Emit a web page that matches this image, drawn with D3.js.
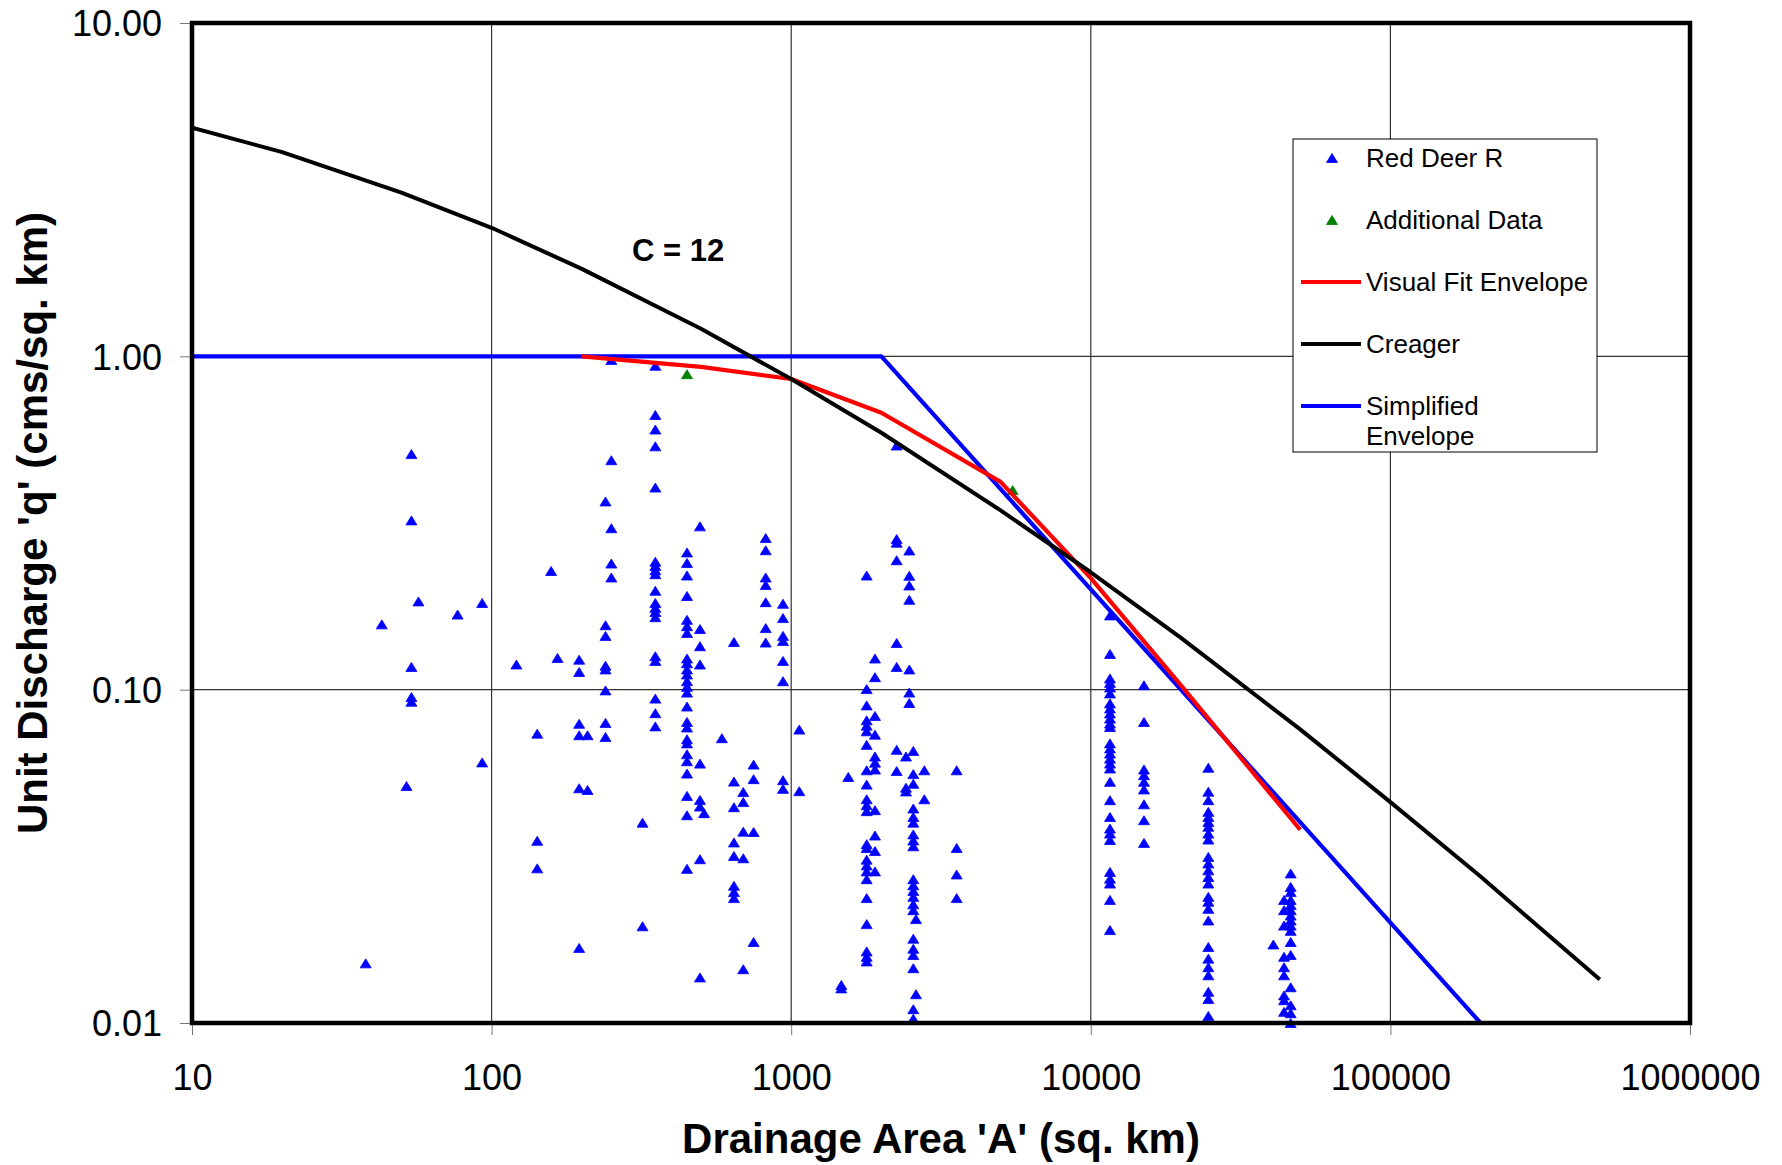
<!DOCTYPE html>
<html>
<head>
<meta charset="utf-8">
<script src="https://cdn.jsdelivr.net/npm/d3@7"></script>
<style>
  body { margin: 0; background: #fff; }
  svg { display: block; font-family: "Liberation Sans", Arial, sans-serif; }
</style>
</head>
<body>
<div id="chart"></div>
<script>
// Red Deer R: drainage area of each station (sq. km) and the unit discharges read at it
const stationAreas = [38, 43, 52, 54, 57, 77, 93, 121, 142, 158, 166, 196, 209, 240, 251, 319, 352, 449,
  496, 512, 587, 644, 692, 749, 822, 939, 1064, 1470, 1551, 1786, 1904, 2249, 2416, 2479, 2556, 2609,
  2782, 3567, 11590, 15050, 24680, 40680, 44160, 46470];
const stationQ = [
  [0.0151],
  [0.157],
  [0.0514],
  [0.509, 0.322, 0.117, 0.095, 0.092],
  [0.184],
  [0.168],
  [0.182, 0.0605],
  [0.119],
  [0.0738, 0.0352, 0.0291],
  [0.227],
  [0.1245],
  [0.123, 0.113, 0.079, 0.073, 0.0506, 0.0168],
  [0.073, 0.050],
  [0.367, 0.156, 0.145, 0.118, 0.115, 0.0995, 0.0795, 0.0721],
  [0.975, 0.488, 0.305, 0.239, 0.217],
  [0.0399, 0.0195],
  [0.937, 0.667, 0.603, 0.537, 0.404, 0.242, 0.235, 0.228, 0.222, 0.198, 0.182, 0.176, 0.171, 0.165, 0.126, 0.122, 0.094, 0.085, 0.0776],
  [0.258, 0.240, 0.220, 0.191, 0.162, 0.155, 0.148, 0.124, 0.120, 0.115, 0.111, 0.106, 0.102, 0.098, 0.089, 0.080, 0.077, 0.071, 0.069, 0.064, 0.061, 0.056, 0.048, 0.042, 0.029],
  [0.309, 0.152, 0.135, 0.119, 0.060, 0.0467, 0.0446, 0.031, 0.0137],
  [0.0426],
  [0.0715],
  [0.139, 0.053, 0.0444, 0.0348, 0.0317, 0.0258, 0.0247, 0.0237],
  [0.0493, 0.046, 0.0375, 0.0312, 0.0145],
  [0.0596, 0.0539, 0.0374, 0.0175],
  [0.285, 0.262, 0.217, 0.206, 0.183, 0.153, 0.1385],
  [0.181, 0.164, 0.145, 0.140, 0.122, 0.106, 0.0535, 0.0504],
  [0.0759, 0.0496],
  [0.0130, 0.0127],
  [0.0547],
  [0.220, 0.1004, 0.0897, 0.0809, 0.078, 0.075, 0.0683, 0.0573, 0.0519, 0.0469, 0.045, 0.0432, 0.0344, 0.0335, 0.0309, 0.0297, 0.0285, 0.027, 0.0237, 0.0198, 0.0164, 0.0158, 0.0153],
  [0.124, 0.109, 0.0834, 0.0733, 0.063, 0.0604, 0.0576, 0.0435, 0.0365, 0.0328, 0.0285],
  [0.540, 0.283, 0.276, 0.2445, 0.138, 0.117, 0.066, 0.057],
  [0.063, 0.0508, 0.0495],
  [0.2615, 0.2196, 0.2054, 0.186, 0.115, 0.098, 0.0912],
  [0.0655, 0.0558, 0.0522, 0.044, 0.0415, 0.0399, 0.0368, 0.0353, 0.0339, 0.027, 0.0259, 0.0249, 0.0239, 0.0227, 0.0218, 0.0179, 0.0167, 0.016, 0.0146, 0.011, 0.0103],
  [0.0205, 0.0122],
  [0.0573, 0.0469],
  [0.0573, 0.0335, 0.0279, 0.0237],
  [0.167, 0.128, 0.108, 0.1048, 0.1015, 0.0974, 0.0909, 0.0878, 0.0848, 0.0819, 0.0791, 0.0773, 0.069, 0.0666, 0.0643, 0.0621, 0.060, 0.058, 0.0529, 0.0466, 0.0415, 0.0383, 0.037, 0.0354, 0.0284, 0.0271, 0.0262, 0.0234, 0.019],
  [0.1031, 0.080, 0.0576, 0.0554, 0.0529, 0.0502, 0.0453, 0.0406, 0.0347],
  [0.0583, 0.0494, 0.0466, 0.043, 0.0415, 0.0401, 0.0388, 0.037, 0.0355, 0.0315, 0.0301, 0.0287, 0.0274, 0.0262, 0.0239, 0.0231, 0.022, 0.0203, 0.0169, 0.0156, 0.0147, 0.0139, 0.0124, 0.0118, 0.0105],
  [0.0172],
  [0.0234, 0.0218, 0.0196, 0.0158, 0.0147, 0.0139, 0.0121, 0.0117, 0.0108],
  [0.0281, 0.0256, 0.0247, 0.0234, 0.0226, 0.0218, 0.021, 0.0203, 0.0196, 0.0189, 0.0175, 0.016, 0.0128, 0.0113, 0.0107, 0.0100]
];

// Additional Data
const extraAreas = [449, 5485];
const extraQ = [0.884, 0.397];

// Visual Fit Envelope
const fitAreas = [200, 500, 1000, 2000, 5000, 10000, 20000, 50000];
const fitQ = [1.0, 0.93, 0.855, 0.677, 0.42, 0.216, 0.103, 0.038];

// Creager, C = 12
const creagerAreas = [10, 20, 50, 100, 200, 500, 1000, 2000, 5000, 10000, 20000, 50000, 100000, 200000, 500000];
const creagerQ = [4.85, 4.1, 3.1, 2.43, 1.83, 1.21, 0.855, 0.59, 0.345, 0.225, 0.143, 0.076, 0.046, 0.0275, 0.0135];

// Simplified Envelope
const simpleAreas = [10, 2000, 200000];
const simpleQ = [1, 1, 0.01];

const xTicks = [10, 100, 1000, 10000, 100000, 1000000];
const yTicks = [0.01, 0.1, 1, 10];

// Set up dimensions
const margin = { top: 23, right: 92, bottom: 142, left: 192 };
const width = 1782 - margin.left - margin.right;
const height = 1165 - margin.top - margin.bottom;

const svgRoot = d3.select("#chart")
  .append("svg")
  .attr("width", 1782)
  .attr("height", 1165);

const svg = svgRoot.append("g")
  .attr("transform", `translate(${margin.left},${margin.top})`);

// Scales (log on both axes)
const x = d3.scaleLog().domain([10, 1000000]).range([0, width]);
const y = d3.scaleLog().domain([0.01, 10]).range([height, 0]);

svg.append("clipPath")
  .attr("id", "plot-clip")
  .append("rect")
  .attr("width", width)
  .attr("height", height);

// Gridlines
svg.append("g")
  .selectAll("line")
  .data(xTicks.slice(1, -1))
  .enter().append("line")
  .attr("x1", d => x(d)).attr("x2", d => x(d))
  .attr("y1", 0).attr("y2", height)
  .attr("stroke", "#333")
  .attr("stroke-width", 1.2);

svg.append("g")
  .selectAll("line")
  .data(yTicks.slice(1, -1))
  .enter().append("line")
  .attr("y1", d => y(d)).attr("y2", d => y(d))
  .attr("x1", 0).attr("x2", width)
  .attr("stroke", "#333")
  .attr("stroke-width", 1.2);

// Axes
const xAxis = svg.append("g")
  .attr("transform", `translate(0,${height})`)
  .call(d3.axisBottom(x).tickValues(xTicks).tickFormat(d3.format("d")).tickSize(12));
xAxis.select(".domain").remove();
xAxis.selectAll("line").attr("stroke", "#777");
xAxis.selectAll("text")
  .attr("y", 41)
  .style("font-size", "36px")
  .style("fill", "#000");

const yAxis = svg.append("g")
  .call(d3.axisLeft(y).tickValues(yTicks).tickFormat(d3.format(".2f")).tickSize(12).tickPadding(18));
yAxis.select(".domain").remove();
yAxis.selectAll("line").attr("stroke", "#777");
yAxis.selectAll("text")
  .attr("dy", "0.36em")
  .style("font-size", "36px")
  .style("fill", "#000");

// Red Deer R points
const points = [];
stationAreas.forEach((a, i) => {
  stationQ[i].forEach(q => points.push({ a: a, q: q }));
});
const extraPoints = extraAreas.map((a, i) => ({ a: a, q: extraQ[i] }));

const tri = "M0,-4.5L5.5,4.5L-5.5,4.5Z";

svg.append("g")
  .selectAll("path")
  .data(points)
  .enter().append("path")
  .attr("d", tri)
  .attr("transform", d => `translate(${x(d.a)},${y(d.q)})`)
  .style("fill", "#0000ff")
  .style("stroke", "#0000ff")
  .style("stroke-width", 0.8);

svg.append("g")
  .selectAll("path")
  .data(extraPoints)
  .enter().append("path")
  .attr("d", tri)
  .attr("transform", d => `translate(${x(d.a)},${y(d.q)})`)
  .style("fill", "#008000")
  .style("stroke", "#008000")
  .style("stroke-width", 0.8);

// Lines
const line = d3.line()
  .x(d => x(d[0]))
  .y(d => y(d[1]));

function drawLine(areas, qs, colour, w) {
  svg.append("path")
    .datum(areas.map((a, i) => [a, qs[i]]))
    .attr("clip-path", "url(#plot-clip)")
    .attr("d", line)
    .attr("fill", "none")
    .attr("stroke", colour)
    .attr("stroke-width", w)
    .attr("stroke-linejoin", "round");
}

drawLine(simpleAreas, simpleQ, "#0000ff", 4.2);
drawLine(fitAreas, fitQ, "#ff0000", 4.2);
drawLine(creagerAreas, creagerQ, "#000000", 4);

// Plot border
svg.append("rect")
  .attr("width", width)
  .attr("height", height)
  .attr("fill", "none")
  .attr("stroke", "#000")
  .attr("stroke-width", 4.5);

// Curve label
svgRoot.append("text")
  .attr("x", 632)
  .attr("y", 261)
  .style("font-size", "31px")
  .style("font-weight", "bold")
  .text("C = 12");

// Axis titles
svgRoot.append("text")
  .attr("x", margin.left + width / 2)
  .attr("y", 1153)
  .attr("text-anchor", "middle")
  .style("font-size", "42px")
  .style("font-weight", "bold")
  .text("Drainage Area 'A' (sq. km)");

svgRoot.append("text")
  .attr("transform", `translate(47,${margin.top + height / 2}) rotate(-90)`)
  .attr("text-anchor", "middle")
  .style("font-size", "42px")
  .style("font-weight", "bold")
  .text("Unit Discharge 'q' (cms/sq. km)");

// Legend
const legend = svgRoot.append("g").attr("transform", "translate(1293,139)");
legend.append("rect")
  .attr("width", 304)
  .attr("height", 313)
  .attr("fill", "#fff")
  .attr("stroke", "#000")
  .attr("stroke-width", 1);

const legendItems = [
  { label: ["Red Deer R"], type: "marker", colour: "#0000ff" },
  { label: ["Additional Data"], type: "marker", colour: "#008000" },
  { label: ["Visual Fit Envelope"], type: "line", colour: "#ff0000" },
  { label: ["Creager"], type: "line", colour: "#000000" },
  { label: ["Simplified", "Envelope"], type: "line", colour: "#0000ff" }
];

legendItems.forEach((item, i) => {
  const cy = 19 + i * 62;
  if (item.type === "marker") {
    legend.append("path")
      .attr("d", tri)
      .attr("transform", `translate(39,${cy})`)
      .style("fill", item.colour)
      .style("stroke", item.colour)
      .style("stroke-width", 0.8);
  } else {
    legend.append("line")
      .attr("x1", 8).attr("x2", 68)
      .attr("y1", cy).attr("y2", cy)
      .attr("stroke", item.colour)
      .attr("stroke-width", 4);
  }
  item.label.forEach((t, j) => {
    legend.append("text")
      .attr("x", 73)
      .attr("y", cy + 9 + j * 30)
      .style("font-size", "26px")
      .text(t);
  });
});
</script>
</body>
</html>
